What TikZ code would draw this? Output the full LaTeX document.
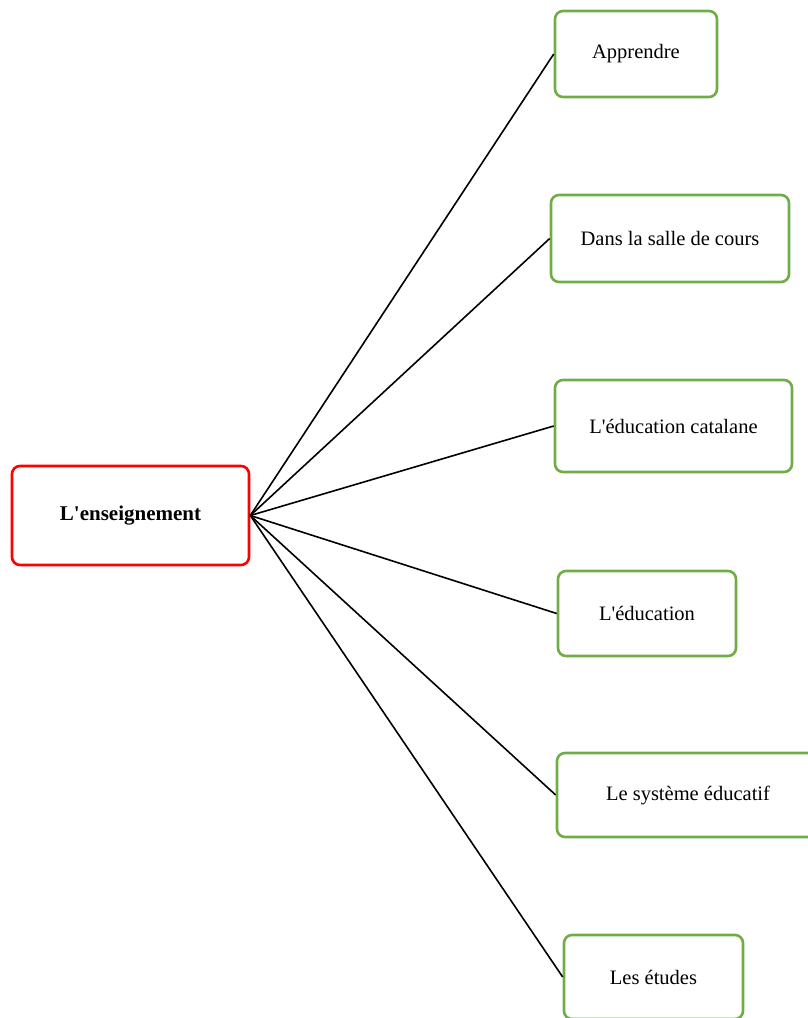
\documentclass[tikz,border=0pt]{standalone}
\usepackage{fontspec}
\setmainfont{Liberation Serif}
\usetikzlibrary{positioning}
\definecolor{cred}{HTML}{FF0000}
\definecolor{cgreen}{HTML}{70AD47}
\tikzset{
  every picture/.style={font=\fontsize{20.5}{24}\selectfont, x=1pt, y=-1pt},
  hubbox/.style={draw=cred, line width=2.6pt, rounded corners=8pt, align=center, inner sep=0pt, font=\fontsize{21}{24}\selectfont\bfseries},
  leaf/.style={draw=cgreen, line width=2.6pt, rounded corners=8pt, align=center, inner sep=0pt},
  link/.style={draw=black, line width=1.6pt},
}
\begin{document}
\begin{tikzpicture}
  \useasboundingbox (0,0) rectangle (808,1018);
  \node[hubbox, minimum width=237pt, minimum height=99pt] (hub) at (130.5,515.5) {L\textquotesingle enseignement};
  \node[leaf, minimum width=162pt, minimum height=86pt] (apprendre) at (636,54) {Apprendre};
  \node[leaf, minimum width=238pt, minimum height=87pt] (salle) at (670,238.5) {Dans la salle de cours};
  \node[leaf, minimum width=237pt, minimum height=92pt] (catalane) at (673.5,426) {L\textquotesingle éducation catalane};
  \node[leaf, minimum width=178pt, minimum height=85pt] (education) at (647,613.5) {L\textquotesingle éducation};
  \node[leaf, minimum width=262pt, minimum height=84pt] (systeme) at (688,795) {Le système éducatif};
  \node[leaf, minimum width=179pt, minimum height=84pt] (etudes) at (653.5,977) {Les études};
  % connectors from the hub
  \foreach \n in {apprendre, salle, catalane, education, systeme, etudes}
    \draw[link] (hub.east) -- (\n.west);
\end{tikzpicture}
\end{document}
